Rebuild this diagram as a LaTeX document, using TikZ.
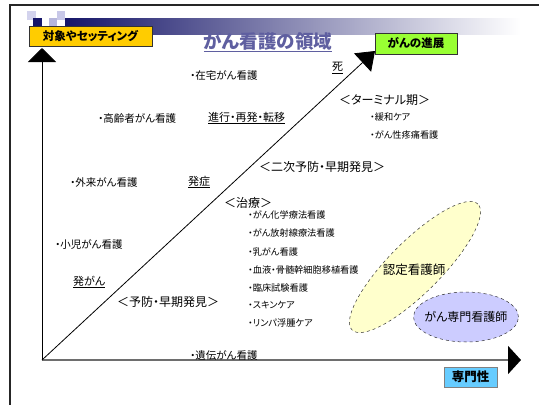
\documentclass[tikz,border=0pt]{standalone}
\usepackage{fontspec}
\setmainfont{Noto Sans CJK JP}[RawFeature=+palt]
\usetikzlibrary{arrows.meta,shapes.geometric}
\definecolor{navy}{RGB}{22,22,105}
\definecolor{lav}{RGB}{200,200,232}
\definecolor{titlecol}{RGB}{95,95,160}
\definecolor{boxyellow}{RGB}{255,204,0}
\definecolor{boxgreen}{RGB}{153,255,51}
\definecolor{boxblue}{RGB}{102,204,255}
\definecolor{elyellow}{RGB}{255,255,204}
\definecolor{elpurple}{RGB}{204,204,255}
\definecolor{axisgray}{RGB}{110,110,110}
\begin{document}
\begin{tikzpicture}[x=1pt,y=-1pt,
  txt/.style={anchor=west,inner sep=0pt,font=\fontsize{10.5}{12}\selectfont},
  small/.style={anchor=west,inner sep=0pt,font=\fontsize{9.2}{11}\selectfont},
  stage/.style={anchor=west,inner sep=0pt,font=\fontsize{12}{14}\selectfont},
  event/.style={anchor=west,inner sep=0pt,font=\fontsize{11}{13}\selectfont},
  tagbox/.style={draw=black!80,line width=0.7pt,inner sep=0pt,font=\bfseries\fontsize{11.5}{13}\selectfont},
  oval/.style={ellipse,draw=black!80,dashed,line width=0.5pt,inner sep=0pt}
]
\useasboundingbox[fill=white] (0,0) rectangle (539,405);
% frame
\draw[line width=1.5pt,black!85] (539,5) -- (10,5) -- (10,405);
% decorative header
\shade[left color=navy,right color=white] (65,18) rectangle (520,34);
\fill[lav!80] (27,11) rectangle (36,20);
\fill[lav] (57,11) rectangle (65,20);
\fill[navy] (33,18) rectangle (42,26);
\fill[lav!90!navy] (49,18) rectangle (57,26);
% title
\node[inner sep=0pt,text=titlecol,font=\bfseries\fontsize{18.5}{20}\selectfont] (title) at (268,42) {\underline{がん看護の領域}};
% tag boxes
\node[tagbox,fill=boxyellow,minimum width=123pt,minimum height=20pt] (setting) at (90.5,36) {対象やセッティング};
\node[tagbox,fill=boxgreen,minimum width=82pt,minimum height=21pt] (prog) at (416,43.5) {がんの進展};
\node[tagbox,draw=black!50,fill=boxblue,minimum width=53pt,minimum height=20pt,font=\bfseries\fontsize{12.5}{14}\selectfont] (spec) at (470.5,377) {専門性};
% axes
\coordinate (O) at (42,360);
\coordinate (ytip) at (42,48);
\coordinate (xtip) at (521,360);
\coordinate (dtip) at (375,51);
\draw[line width=0.8pt,-{Triangle[width=28pt,length=14pt]}] (O) -- (ytip);
\draw[line width=2pt,axisgray,-{Triangle[width=28pt,length=13pt,color=black]}] (O) -- (xtip);
\draw[line width=0.8pt,-{Triangle[width=25pt,length=17pt]}] (O) -- (dtip);
% ovals
\node[oval,fill=elyellow,minimum width=178pt,minimum height=52pt,rotate=45] (ninteioval) at (415,267) {};
\node[inner sep=0pt,font=\fontsize{12.5}{14}\selectfont] (nintei) at (414,270) {認定看護師};
\node[oval,fill=elpurple,minimum width=105pt,minimum height=50pt] (senmonoval) at (466,317) {};
\node[inner sep=0pt,font=\fontsize{12}{14}\selectfont] (senmon) at (466,317) {がん専門看護師};
% left side texts
\node[txt] (zaitaku) at (190,75) {・在宅がん看護};
\node[txt] (koureisha) at (98,118) {・高齢者がん看護};
\node[txt] (gairai) at (70,182) {・外来がん看護};
\node[txt] (shouni) at (55,245) {・小児がん看護};
\node[txt] (iden) at (190,355) {・遺伝がん看護};
% events on the diagonal
\node[event] (shi) at (332,68) {\underline{死}};
\node[event] (shinkou) at (208,118) {\underline{進行・再発・転移}};
\node[event] (hasshou) at (188,182) {\underline{発症}};
\node[event] (hatsugan) at (73,282) {\underline{発がん}};
% stages
\node[stage] (terminal) at (339,100) {＜ターミナル期＞};
\node[small] (kanwa) at (370,117) {・緩和ケア};
\node[small] (toutsuu) at (370,135) {・がん性疼痛看護};
\node[stage] (niji) at (259,167) {＜二次予防・早期発見＞};
\node[stage] (chiryou) at (224,203) {＜治療＞};
\node[small] (t1) at (248,215) {・がん化学療法看護};
\node[small] (t2) at (248,233) {・がん放射線療法看護};
\node[small] (t3) at (248,252) {・乳がん看護};
\node[small] (t4) at (248,270) {・血液・骨髄幹細胞移植看護};
\node[small] (t5) at (248,288) {・臨床試験看護};
\node[small] (t6) at (248,305) {・スキンケア};
\node[small] (t7) at (248,323) {・リンパ浮腫ケア};
\node[stage] (yobou) at (117,302) {＜予防・早期発見＞};
\end{tikzpicture}
\end{document}
